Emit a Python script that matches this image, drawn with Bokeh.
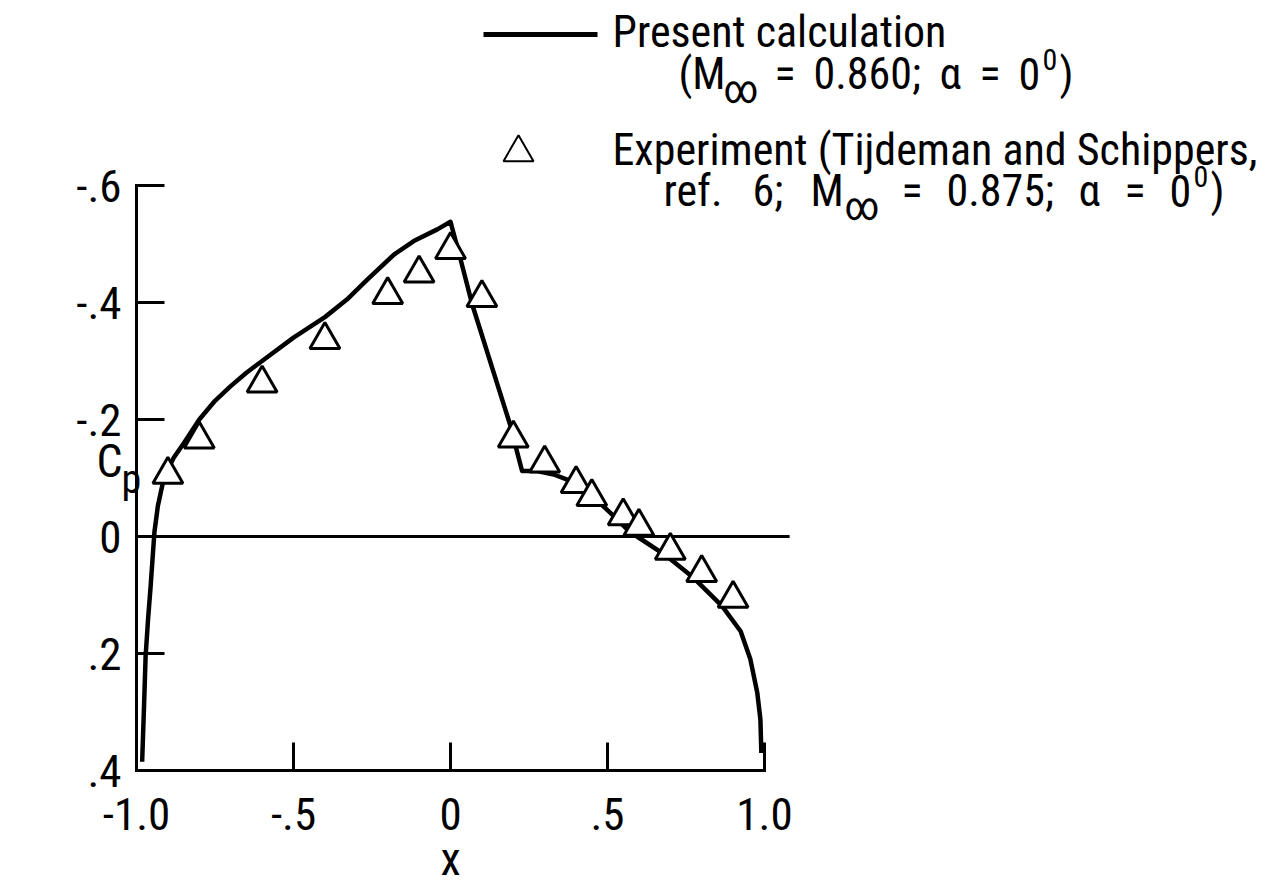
from bokeh.plotting import figure
from bokeh.models import Range1d, Label
from bokeh.core.properties import value
from bokeh.embed import file_html
from bokeh.resources import INLINE

FONT = "Roboto Condensed, DejaVu Sans Condensed, Liberation Sans Narrow, Roboto, sans-serif"

# Present calculation, M = 0.860, alpha = 0 deg
calc_x = [-0.982, -0.976, -0.971, -0.963, -0.955, -0.943, -0.932, -0.916, -0.900,
          -0.881, -0.849, -0.800, -0.750, -0.700, -0.650, -0.600, -0.500, -0.400,
          -0.330, -0.265, -0.180, -0.117, -0.042, 0.000, 0.032, 0.069, 0.191, 0.207,
          0.228, 0.276, 0.329, 0.382, 0.446, 0.510, 0.563, 0.594, 0.690, 0.775,
          0.865, 0.924, 0.955, 0.977, 0.987, 0.990]
calc_cp = [0.385, 0.290, 0.205, 0.140, 0.085, -0.007, -0.052, -0.092, -0.115,
           -0.135, -0.160, -0.200, -0.232, -0.257, -0.280, -0.300, -0.340, -0.375,
           -0.405, -0.439, -0.482, -0.505, -0.525, -0.538, -0.474, -0.397, -0.189,
           -0.155, -0.112, -0.112, -0.106, -0.095, -0.072, -0.040, -0.012, 0.000,
           0.034, 0.071, 0.119, 0.162, 0.210, 0.267, 0.313, 0.370]

# Experiment (Tijdeman and Schippers), M = 0.875, alpha = 0 deg
exp_x = [-0.9, -0.8, -0.6, -0.4, -0.2, -0.1, 0.0, 0.1, 0.2, 0.3, 0.4, 0.45,
         0.55, 0.6, 0.7, 0.8, 0.9]
exp_cp = [-0.106, -0.166, -0.262, -0.336, -0.413, -0.450, -0.490, -0.408, -0.168,
          -0.125, -0.090, -0.068, -0.035, -0.017, 0.024, 0.062, 0.106]

x_ticks = [-1.0, -0.5, 0.0, 0.5, 1.0]
x_tick_labels = ["-1.0", "-.5", "0", ".5", "1.0"]
y_ticks = [-0.6, -0.4, -0.2, 0.0, 0.2, 0.4]
y_tick_labels = ["-.6", "-.4", "-.2", "0", ".2", ".4"]

# page geometry: x = -1 sits 136 px from the left edge (314 px per unit),
# Cp = 0.4 sits 770 px from the top (585 px per unit, negative Cp upward)
W, H = 1272, 893
PX_X, PX_Y = 314.0, 585.0
X0 = -1.0 - 136 / PX_X
X1 = X0 + W / PX_X
Y_TOP = 0.4 - 770 / PX_Y
Y_BOT = Y_TOP + H / PX_Y


def dx(px):
    return X0 + px / PX_X


def dy(py):
    return Y_TOP + py / PX_Y


p = figure(width=W, height=H, x_range=Range1d(X0, X1), y_range=Range1d(Y_BOT, Y_TOP),
           output_backend="svg", toolbar_location=None,
           x_axis_location=None, y_axis_location=None,
           min_border=0)
p.outline_line_color = None
p.xgrid.visible = False
p.ygrid.visible = False
p.background_fill_color = "white"
p.border_fill_color = "white"

# axes: left and bottom spines with inward ticks
X_LO, X_HI = x_ticks[0], x_ticks[-1]
Y_LO, Y_HI = y_ticks[0], y_ticks[-1]
TICK = 28
p.segment(x0=[X_LO, X_LO], y0=[Y_HI, Y_HI], x1=[X_HI, X_LO], y1=[Y_HI, Y_LO],
          line_width=3, line_color="black", line_cap="square")
p.segment(x0=[X_LO] * len(y_ticks), y0=y_ticks,
          x1=[X_LO + TICK / PX_X] * len(y_ticks), y1=y_ticks,
          line_width=3, line_color="black")
p.segment(x0=x_ticks, y0=[Y_HI] * len(x_ticks),
          x1=x_ticks, y1=[Y_HI - TICK / PX_Y] * len(x_ticks),
          line_width=3, line_color="black")
p.text(x=[X_LO - 15 / PX_X] * len(y_ticks), y=y_ticks, text=y_tick_labels,
       text_font=value(FONT), text_font_size="45px", text_color="black",
       text_align="right", text_baseline="middle")
p.text(x=x_ticks, y=[Y_HI + 27 / PX_Y] * len(x_ticks), text=x_tick_labels,
       text_font=value(FONT), text_font_size="45px", text_color="black",
       text_align="center", text_baseline="top")

# Cp = 0 reference line
p.segment(x0=[X_LO], y0=[0.0], x1=[1.08], y1=[0.0], line_width=3, line_color="black")

# calculation curve and experimental points
p.line(calc_x, calc_cp, line_width=4.5, line_color="black", line_join="round")
p.scatter(exp_x, exp_cp, marker="triangle", size=30, fill_color="white",
          line_color="black", line_width=3)


def txt(px, base, s, size=44, align="left"):
    # base is the wanted baseline; the label anchor sits a little above it
    p.add_layout(Label(x=dx(px), y=dy(base - 0.37 * size), text=s, text_font=FONT,
                       text_font_size=f"{size}px", text_baseline="alphabetic",
                       text_align=align, text_color="black"))


CHAR_W = {"M": 30, "(M": 41, "=": 21, "0.860;": 108, "0.875;": 108,
          "\u03b1": 22, "0": 22}


def flow(px, base, tokens, gap=18):
    # lay out "M_inf = value; alpha = 0^0)" token by token, left to right
    for s, kind in tokens:
        if kind == "sub":
            start = px - gap + 4
            txt(start, base + 14, s, size=40)
            px = start + 33 + gap
        elif kind == "sup":
            start = px - gap + 2
            txt(start, base - 20, s, size=30)
            px = start + 17
        else:
            txt(px, base, s)
            px += CHAR_W.get(s, 0) + gap


# axis titles
txt(96, 478, "C", size=46)
txt(121, 494, "p", size=40)
txt(450, 876, "x", size=46, align="center")

# key
p.line([dx(483), dx(597)], [dy(34), dy(34)], line_width=5, line_color="black")
p.scatter([dx(518)], [dy(152)], marker="triangle", size=30, fill_color="white",
          line_color="black", line_width=2)

txt(612, 48, "Present calculation")
flow(678, 90, [("(M", "t"), ("\u221e", "sub"), ("=", "t"), ("0.860;", "t"),
               ("\u03b1", "t"), ("=", "t"), ("0", "t"), ("0", "sup"), (")", "t")])

txt(612, 166, "Experiment (Tijdeman and Schippers,")
txt(663, 207, "ref.")
txt(752, 207, "6;")
flow(810, 207, [("M", "t"), ("\u221e", "sub"), ("=", "t"), ("0.875;", "t"),
                ("\u03b1", "t"), ("=", "t"), ("0", "t"), ("0", "sup"), (")", "t")],
     gap=24)

open("out.html", "w").write(file_html(p, INLINE))
